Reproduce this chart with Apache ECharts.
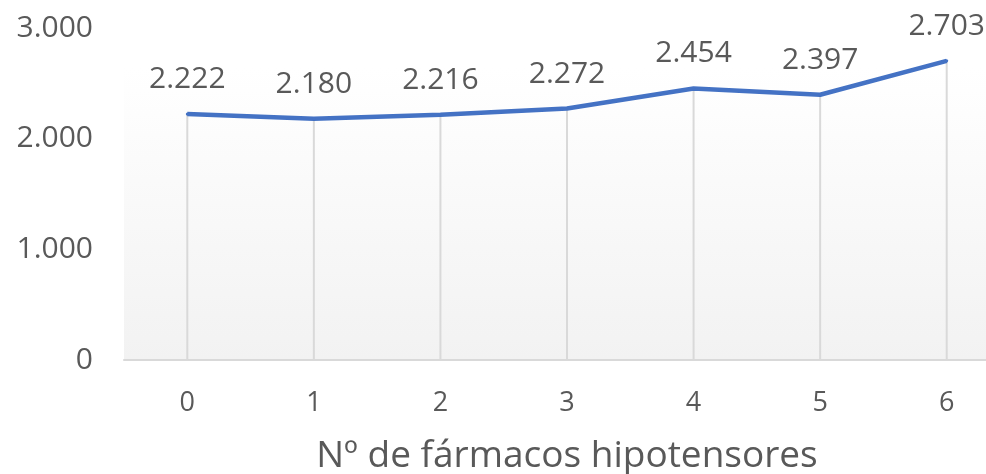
<!DOCTYPE html>
<html>
<head>
<meta charset="utf-8">
<script src="https://cdn.jsdelivr.net/npm/echarts@6/dist/echarts.min.js"></script>
<style>
  html, body { margin: 0; padding: 0; background: #fff; }
  #chart { width: 986px; height: 474px; }
</style>
</head>
<body>
<div id="chart"></div>
<script>
// categories: number of antihypertensive drugs
const categories = ['0', '1', '2', '3', '4', '5', '6']
const values = [2222, 2180, 2216, 2272, 2454, 2397, 2703]
const yTicks = [0, 1000, 2000, 3000]

const textColor = '#595959'
const font = '"Open Sans", sans-serif'

// spanish thousand separator
function fmt(v) {
  return String(v).replace(/\B(?=(\d{3})+(?!\d))/g, '.')
}

const chart = echarts.init(document.getElementById('chart'))
chart.setOption({
  animation: false,
  grid: {
    left: 124,
    width: 886,
    top: 28,
    bottom: 114,
    outerBoundsMode: 'none',
    containLabel: false,
    show: true,
    borderWidth: 0,
    backgroundColor: {
      type: 'linear', x: 0, y: 0, x2: 0, y2: 1,
      colorStops: [
        {offset: 0, color: '#ffffff'},
        {offset: 0.12, color: '#ffffff'},
        {offset: 1, color: '#f2f2f2'}
      ]
    }
  },
  xAxis: {
    type: 'category',
    data: categories,
    boundaryGap: true,
    name: 'Nº de fármacos hipotensores',
    nameLocation: 'middle',
    nameGap: 78,
    nameTextStyle: {color: textColor, fontFamily: font, fontSize: 37},
    axisLine: {lineStyle: {color: '#d9d9d9', width: 2}},
    axisTick: {show: false},
    axisLabel: {color: textColor, fontFamily: font, fontSize: 27, margin: 30}
  },
  yAxis: {
    type: 'value',
    min: yTicks[0],
    max: yTicks[yTicks.length - 1],
    interval: 1000,
    splitLine: {show: false},
    axisLine: {show: false},
    axisTick: {show: false},
    axisLabel: {color: textColor, fontFamily: font, fontSize: 30, margin: 31, formatter: fmt}
  },
  series: [
    {
      // drop lines
      type: 'bar',
      data: values,
      barWidth: 2,
      silent: true,
      itemStyle: {color: '#d9d9d9'}
    },
    {
      type: 'line',
      data: values,
      symbol: 'circle',
      symbolSize: 3,
      showSymbol: true,
      itemStyle: {color: '#4472c4'},
      lineStyle: {color: '#4472c4', width: 4.5},
      label: {
        show: true,
        position: 'top',
        distance: 18,
        color: textColor,
        fontFamily: font,
        fontSize: 30,
        formatter: p => fmt(p.value)
      }
    }
  ]
})
</script>
</body>
</html>
